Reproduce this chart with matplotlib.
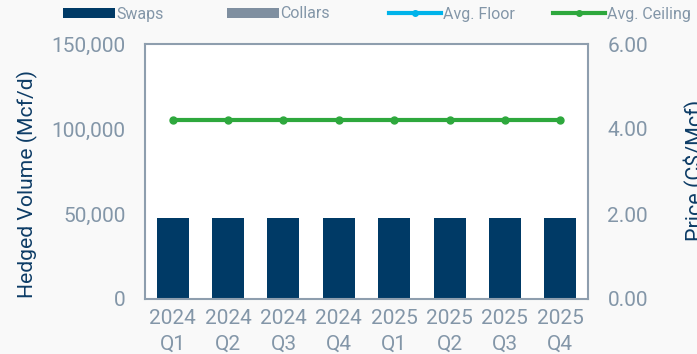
import matplotlib
matplotlib.use("Agg")
import matplotlib.pyplot as plt
import numpy as np
from matplotlib.lines import Line2D
from matplotlib.patches import Patch

plt.rcParams['font.family'] = ['Roboto', 'DejaVu Sans']

categories = ["2024\nQ1", "2024\nQ2", "2024\nQ3", "2024\nQ4",
              "2025\nQ1", "2025\nQ2", "2025\nQ3", "2025\nQ4"]
swaps = [47500, 47500, 47500, 47500, 47500, 47500, 47500, 47500]
collars = [0, 0, 0, 0, 0, 0, 0, 0]
avg_floor = [np.nan] * 8
avg_ceiling = [4.21, 4.21, 4.21, 4.21, 4.21, 4.21, 4.21, 4.21]

c_swaps = "#003a66"
c_collars = "#7f8fa0"
c_floor = "#00b3ea"
c_ceiling = "#2ea83d"
c_tick = "#8396a8"
c_label = "#0d3c66"
c_spine = "#8e9eae"

W, H = 697, 354
fig = plt.figure(figsize=(W/100, H/100), dpi=100, facecolor="#f9f9f9")
ax = fig.add_axes([145/W, 1-299/H, 443/W, 255/H])
ax.set_facecolor("white")

x = np.arange(len(categories))
ax.bar(x, swaps, width=0.58, color=c_swaps, zorder=2)
ax.bar(x, collars, width=0.58, bottom=swaps, color=c_collars, zorder=2)
ax.set_xlim(-0.5, 7.5)
ax.set_ylim(0, 150000)
ax.set_yticks([0, 50000, 100000, 150000])
ax.set_yticklabels(["0", "50,000", "100,000", "150,000"])
ax.set_xticks(x)
ax.set_xticklabels(categories, linespacing=1.4)
ax.tick_params(length=0, colors=c_tick, labelsize=15)
ax.tick_params(axis='y', pad=14)
ax.tick_params(axis='x', pad=7.5)
for s in ax.spines.values():
    s.set_color(c_spine)
    s.set_linewidth(1.5)

ax2 = ax.twinx()
ax2.plot(x, avg_floor, color=c_floor, lw=3, marker='o', ms=5, zorder=3)
ax2.plot(x, avg_ceiling, color=c_ceiling, lw=3, marker='o', ms=5, zorder=3)
ax2.set_ylim(0, 6)
ax2.set_yticks([0, 2, 4, 6])
ax2.set_yticklabels(["0.00", "2.00", "4.00", "6.00"])
ax2.tick_params(length=0, colors=c_tick, labelsize=15, pad=14)
for s in ax2.spines.values():
    s.set_visible(False)

fig.text(27/W, 1-184/H, "Hedged Volume (Mcf/d)", rotation=90, ha='center',
         va='center', color=c_label, fontsize=15.2)
fig.text(683/W, 1-170/H, "Price (C$/Mcf)", rotation=90, ha='left',
         va='center', color=c_label, fontsize=15.5)

handles = [
    Patch(facecolor=c_swaps, edgecolor='none'),
    Patch(facecolor=c_collars, edgecolor='none'),
    Line2D([0], [0], color=c_floor, lw=3, marker='o', ms=4),
    Line2D([0], [0], color=c_ceiling, lw=3, marker='o', ms=4),
]
labels = ["Swaps", "Collars", "Avg. Floor", "Avg. Ceiling"]
starts = [63, 227, 389, 553]
for h, l, xs in zip(handles, labels, starts):
    leg = fig.legend([h], [l], loc='center left', bbox_to_anchor=(xs/W, 1-14/H),
                     frameon=False, fontsize=11.5, handlelength=3.25,
                     handleheight=0.65, handletextpad=0.1,
                     borderaxespad=0.0, borderpad=0.0)
    for t in leg.get_texts():
        t.set_color(c_tick)

fig.savefig("out.png", dpi=100, facecolor=fig.get_facecolor())
